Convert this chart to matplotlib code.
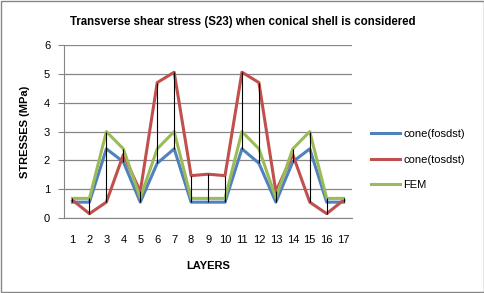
import matplotlib
matplotlib.use("Agg")
import matplotlib.pyplot as plt
from matplotlib.patches import Rectangle

plt.rcParams['font.family'] = ['Liberation Sans', 'DejaVu Sans']

layers = list(range(1, 18))
cone_fosdst = [0.55, 0.55, 2.4, 1.95, 0.55, 1.9, 2.4, 0.55, 0.55, 0.55, 2.4, 1.9, 0.55, 1.95, 2.4, 0.55, 0.55]
cone_tosdst = [0.62, 0.15, 0.55, 2.2, 0.92, 4.7, 5.06, 1.47, 1.52, 1.47, 5.06, 4.7, 0.92, 2.2, 0.55, 0.15, 0.62]
fem = [0.68, 0.68, 3.0, 2.4, 0.7, 2.4, 3.0, 0.68, 0.68, 0.68, 3.0, 2.4, 0.7, 2.4, 3.0, 0.68, 0.68]

fig = plt.figure(figsize=(4.85, 2.93), dpi=100)
ax = fig.add_axes([0.132, 0.256, 0.594, 0.59])

ax.plot(layers, cone_fosdst, color='#4F81BD', lw=2.2, label='cone(fosdst)', zorder=3)
ax.plot(layers, cone_tosdst, color='#C0504D', lw=2.2, label='cone(tosdst)', zorder=3)
ax.plot(layers, fem, color='#9BBB59', lw=2.2, label='FEM', zorder=3)

# high-low lines like Excel
lows = [min(a, b, c) for a, b, c in zip(cone_fosdst, cone_tosdst, fem)]
highs = [max(a, b, c) for a, b, c in zip(cone_fosdst, cone_tosdst, fem)]
ax.vlines(layers, lows, highs, color='black', lw=0.8, zorder=4)

ax.set_xlim(0.5, 17.5)
ax.set_ylim(0, 6)
ax.set_xticks(layers)
ax.set_yticks(range(0, 7))
ax.tick_params(axis='x', length=0, pad=12, labelsize=8)
ax.tick_params(axis='y', length=4, color='#868686', labelsize=8, pad=6)
ax.yaxis.grid(True, color='#868686', lw=0.9)
ax.set_axisbelow(True)
for s in ['top', 'right']:
    ax.spines[s].set_visible(False)
for s in ['left', 'bottom']:
    ax.spines[s].set_color('#868686')
ax.set_xlabel('LAYERS', fontsize=8, fontweight='bold', labelpad=12)
ax.set_ylabel('STRESSES (MPa)', fontsize=8, fontweight='bold', labelpad=10)

fig.suptitle('Transverse shear stress (S23) when conical shell is considered',
             fontsize=8.3, fontweight='bold', y=0.945)

fig.legend(loc='center left', bbox_to_anchor=(0.745, 0.455), frameon=False,
           fontsize=8, handlelength=2.6, labelspacing=1.4, handletextpad=0.3)

fig.add_artist(Rectangle((0.002, 0.003), 0.995, 0.993, transform=fig.transFigure,
                         fill=False, edgecolor='#868686', lw=1))

fig.savefig('out.png', dpi=100)
